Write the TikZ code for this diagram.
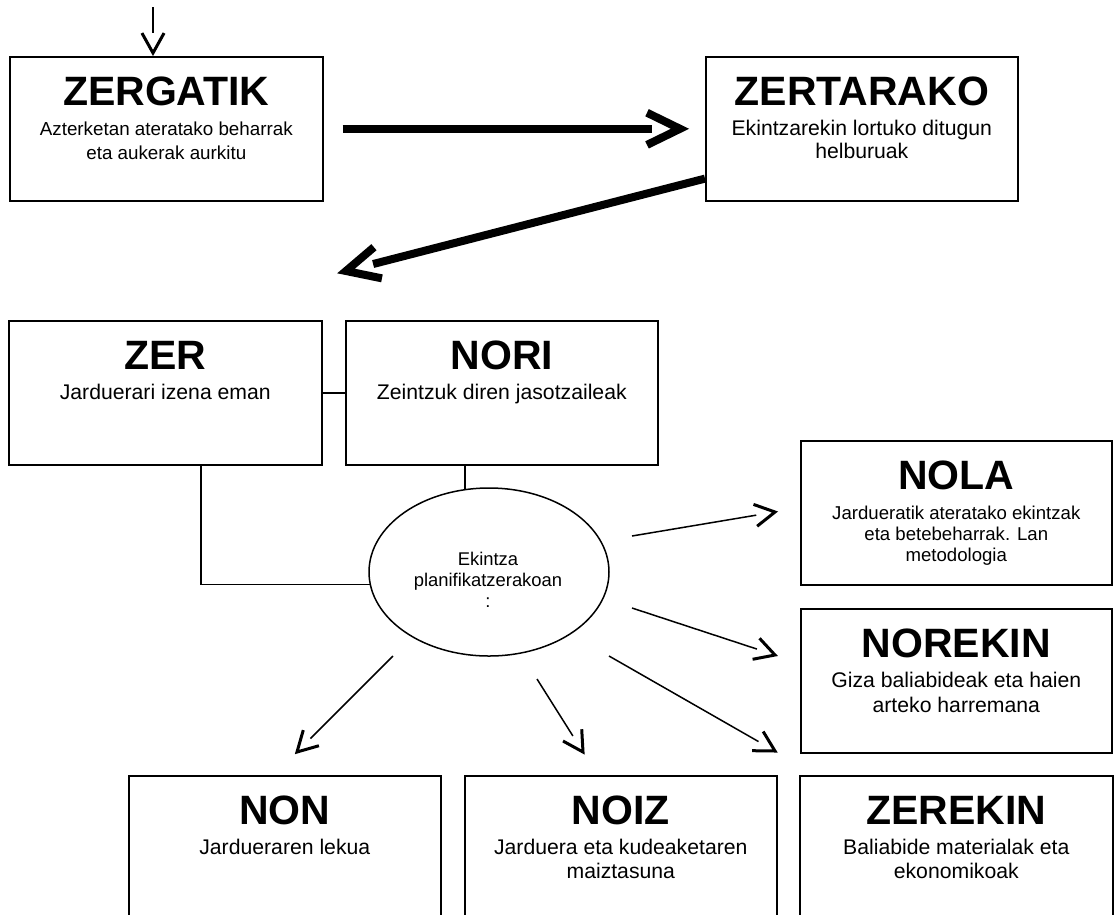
\documentclass[tikz,border=0pt]{standalone}
\usepackage{fontspec}
\setmainfont{Liberation Sans}
\usetikzlibrary{calc,shapes.geometric}

\newcommand{\fsz}[2]{\fontsize{#1}{#2}\selectfont}

\tikzset{
  boxst/.style={draw, line width=1.6pt, rectangle, anchor=north west, inner sep=0pt, minimum height=144pt},
  ttlst/.style={anchor=base, inner sep=0pt, font=\fontsize{41}{49}\selectfont\bfseries},
  subst/.style={anchor=north, inner sep=0pt, align=center},
  conn/.style={line width=1.5pt},
  thinshaft/.style={line width=1.5pt, line cap=butt},
  thinhead/.style={line width=3pt, line join=miter, line cap=butt},
  thickshaft/.style={line width=8pt, line cap=butt},
  thickhead/.style={line width=8pt, line join=miter, line cap=butt},
}

% name, x, y, width, title, font size, pitch, text
\newcommand{\infobox}[8]{%
  \node[boxst, minimum width=#4pt] (#1) at (#2,#3) {};
  \node[ttlst] (#1-t) at ($(#1.north)+(0,49)$) {#5};
  \node[subst, font=\fsz{#6}{#7}] (#1-s) at ($(#1.north)+(0,{79-0.72*#6})$) {#8};
}

% thin arrow: start, tip
\newcommand{\thinarrow}[2]{%
  \draw[thinshaft] (#1) -- ($(#2)!19pt!(#1)$);
  \draw[thinhead] ($(#2)!22.8pt!29:(#1)$) -- (#2) -- ($(#2)!22.8pt!-29:(#1)$);
}
% thick arrow: start, tip
\newcommand{\thickarrow}[2]{%
  \draw[thickshaft] (#1) -- ($(#2)!28pt!(#1)$);
  \draw[thickhead] ($(#2)!36.7pt!26:(#1)$) -- (#2) -- ($(#2)!36.7pt!-26:(#1)$);
}

\begin{document}
\begin{tikzpicture}[x=1pt,y=-1pt]
\useasboundingbox (0,0) rectangle (1114,914);
\clip (0,0) rectangle (1114,914);

\infobox{zergatik}{9}{56}{313}{ZERGATIK}{18.8}{24}{Azterketan ateratako beharrak\\eta aukerak aurkitu}
\infobox{zertarako}{705}{56}{312}{ZERTARAKO}{21.2}{23.5}{Ekintzarekin lortuko ditugun\\helburuak}
\infobox{zer}{8}{320}{313}{ZER}{21.2}{24.4}{Jarduerari izena eman}
\infobox{nori}{345}{320}{312}{NORI}{21.2}{24.4}{Zeintzuk diren jasotzaileak}
\infobox{nola}{800}{440}{311}{NOLA}{18.6}{21}{Jardueratik ateratako ekintzak\\eta betebeharrak. Lan\\metodologia}
\infobox{norekin}{800}{608}{311}{NOREKIN}{21.2}{25}{Giza baliabideak eta haien\\arteko harremana}
\infobox{non}{128}{775}{312}{NON}{21.2}{24}{Jardueraren lekua}
\infobox{noiz}{464}{775}{312}{NOIZ}{21.2}{24}{Jarduera eta kudeaketaren\\maiztasuna}
\infobox{zerekin}{799}{775}{313}{ZEREKIN}{21.2}{24}{Baliabide materialak eta\\ekonomikoak}

% central ellipse
\node[ellipse, draw, line width=1.5pt, minimum width=240pt, minimum height=168pt, inner sep=0pt] (ell) at (489,572) {};
\node[subst, font=\fsz{18.4}{21}] (ell-t) at (488,551.8) {Ekintza\\planifikatzerakoan\\:};

% connectors
\draw[conn] (zer.east) -- (nori.west);
\draw[conn] ([xshift=193pt]zer.south west) |- (ell.186);
\draw[conn] (ell.106 |- nori.south) -- (ell.106);

% entry arrow
\coordinate (in0) at (153,7);
\coordinate (in1) at ($(zergatik.north west)+(144,-3)$);
\draw[thinshaft, line width=2pt] (in0) -- ($(in1)!20pt!(in0)$);
\draw[thinhead] ($(in1)!22.8pt!29:(in0)$) -- (in1) -- ($(in1)!22.8pt!-29:(in0)$);

% thick arrows
\coordinate (h0) at ($(zergatik.east)+(19,0)$);
\coordinate (h1) at ($(zertarako.west)+(-25,0)$);
\thickarrow{h0}{h1}
\coordinate (d0) at ([yshift=23pt]zertarako.south west);
\coordinate (d1) at (346,271);
\thickarrow{d0}{d1}

% thin arrows from the ellipse
\coordinate (a0) at (632,536); \coordinate (a1) at (775,512);
\coordinate (b0) at (632,608); \coordinate (b1) at (775,655);
\coordinate (c0) at (609,656); \coordinate (c1) at (775,751);
\coordinate (e0) at (537,679); \coordinate (e1) at (583,752);
\coordinate (f0) at (393,656); \coordinate (f1) at (297,752);
\thinarrow{a0}{a1}
\thinarrow{b0}{b1}
\thinarrow{c0}{c1}
\thinarrow{e0}{e1}
\thinarrow{f0}{f1}
\end{tikzpicture}
\end{document}
